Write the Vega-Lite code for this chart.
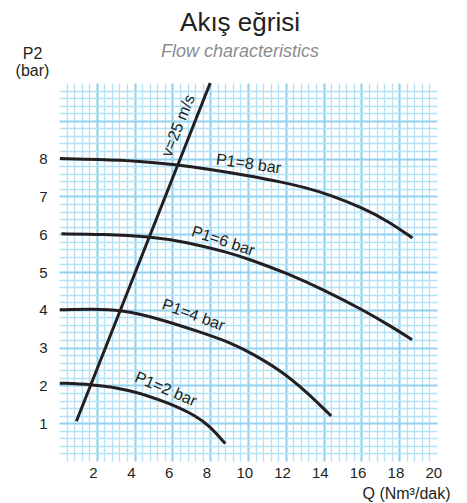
{
  "$schema": "https://vega.github.io/schema/vega-lite/v6.json",
  "width": 378,
  "height": 378,
  "autosize": {"type": "none"},
  "padding": {"left": 59, "top": 83, "right": 30, "bottom": 42},
  "background": "white",
  "config": {"view": {"stroke": null}, "font": "Liberation Sans"},
  "title": {
    "text": "Akış eğrisi",
    "subtitle": "Flow characteristics",
    "font": "Liberation Sans",
    "fontSize": 26,
    "fontWeight": "normal",
    "color": "#231f20",
    "subtitleFont": "Liberation Sans",
    "subtitleFontSize": 18,
    "subtitleFontStyle": "italic",
    "subtitleColor": "#8c8c8c",
    "subtitlePadding": 7,
    "anchor": "middle",
    "dx": -8,
    "dy": 20
  },
  "datasets": {
    "curves": [
      {"series": "P1=8", "q": 0.25, "p2": 8.0},
      {"series": "P1=8", "q": 2.3, "p2": 7.98},
      {"series": "P1=8", "q": 4.5, "p2": 7.93},
      {"series": "P1=8", "q": 6.4, "p2": 7.84},
      {"series": "P1=8", "q": 8.0, "p2": 7.73},
      {"series": "P1=8", "q": 10.2, "p2": 7.55},
      {"series": "P1=8", "q": 11.9, "p2": 7.39},
      {"series": "P1=8", "q": 13.2, "p2": 7.24},
      {"series": "P1=8", "q": 14.5, "p2": 7.05},
      {"series": "P1=8", "q": 16.3, "p2": 6.69},
      {"series": "P1=8", "q": 17.7, "p2": 6.32},
      {"series": "P1=8", "q": 18.9, "p2": 5.9},
      {"series": "P1=6", "q": 0.33, "p2": 6.01},
      {"series": "P1=6", "q": 2.5, "p2": 6.0},
      {"series": "P1=6", "q": 5.0, "p2": 5.94},
      {"series": "P1=6", "q": 6.9, "p2": 5.8},
      {"series": "P1=6", "q": 9.2, "p2": 5.51},
      {"series": "P1=6", "q": 10.2, "p2": 5.35},
      {"series": "P1=6", "q": 12.3, "p2": 4.96},
      {"series": "P1=6", "q": 14.15, "p2": 4.54},
      {"series": "P1=6", "q": 16.27, "p2": 4.0},
      {"series": "P1=6", "q": 17.68, "p2": 3.59},
      {"series": "P1=6", "q": 18.88, "p2": 3.21},
      {"series": "P1=4", "q": 0.24, "p2": 4.0},
      {"series": "P1=4", "q": 2.0, "p2": 4.02},
      {"series": "P1=4", "q": 3.45, "p2": 4.0},
      {"series": "P1=4", "q": 5.35, "p2": 3.79},
      {"series": "P1=4", "q": 7.8, "p2": 3.39},
      {"series": "P1=4", "q": 9.22, "p2": 3.14},
      {"series": "P1=4", "q": 10.28, "p2": 2.88},
      {"series": "P1=4", "q": 11.86, "p2": 2.42},
      {"series": "P1=4", "q": 13.28, "p2": 1.84},
      {"series": "P1=4", "q": 14.6, "p2": 1.19},
      {"series": "P1=2", "q": 0.24, "p2": 2.06},
      {"series": "P1=2", "q": 1.9, "p2": 2.03},
      {"series": "P1=2", "q": 3.9, "p2": 1.9},
      {"series": "P1=2", "q": 6.05, "p2": 1.53},
      {"series": "P1=2", "q": 7.46, "p2": 1.19},
      {"series": "P1=2", "q": 8.16, "p2": 0.93},
      {"series": "P1=2", "q": 9.0, "p2": 0.46},
      {"series": "v=25", "q": 1.12, "p2": 1.05},
      {"series": "v=25", "q": 8.2, "p2": 10.0}
    ],
    "labels": [
      {"text": "P1=8 bar", "q": 10.23, "p2": 7.86},
      {"text": "P1=6 bar", "q": 8.88, "p2": 5.82},
      {"text": "P1=4 bar", "q": 7.31, "p2": 3.86},
      {"text": "P1=2 bar", "q": 5.85, "p2": 1.9},
      {"text": "v=25 m/s", "q": 6.51, "p2": 8.87}
    ]
  },
  "layer": [
    {
      "data": {"name": "curves"},
      "mark": {"type": "line", "interpolate": "basis", "color": "#231f20", "strokeWidth": 3},
      "encoding": {
        "x": {
          "field": "q", "type": "quantitative",
          "scale": {"domain": [0.2, 20.2], "nice": false, "zero": false},
          "axis": {
            "title": "Q (Nm³/dak)",
            "titleFont": "Liberation Sans",
            "titleFontSize": 16,
            "titleFontWeight": "normal",
            "titleColor": "#231f20",
            "titleAlign": "right",
            "titleAnchor": null,
            "titleBaseline": "alphabetic",
            "titleX": 391,
            "titleY": 37,
            "domain": false,
            "ticks": false,
            "tickCount": 1000,
            "labelFontSize": 15,
            "labelColor": "#231f20",
            "labelPadding": 4,
            "labelOverlap": false,
            "labelFlush": false,
            "labelBound": false,
            "labelExpr": "datum.value % 2 == 0 ? format(datum.value, 'd') : ''",
            "values": [0.6,1,1.4,1.8,2,2.2,2.6,3,3.4,3.8,4,4.2,4.6,5,5.4,5.8,6,6.2,6.6,7,7.4,7.8,8,8.2,8.6,9,9.4,9.8,10,10.2,10.6,11,11.4,11.8,12,12.2,12.6,13,13.4,13.8,14,14.2,14.6,15,15.4,15.8,16,16.2,16.6,17,17.4,17.8,18,18.2,18.6,19,19.4,19.8,20],
            "grid": true,
            "gridOpacity": {"condition": {"test": "datum.value % 2 == 0", "value": 0}, "value": 1},
            "gridColor": {"condition": {"test": "abs((datum.value - 0.2) / 2 - round((datum.value - 0.2) / 2)) < 0.01", "value": "#93d2f0"}, "value": "#b3e2f7"},
            "gridWidth": {"condition": {"test": "abs((datum.value - 0.2) / 2 - round((datum.value - 0.2) / 2)) < 0.01", "value": 2.2}, "value": 1.3}
          }
        },
        "y": {
          "field": "p2", "type": "quantitative",
          "scale": {"domain": [0, 10], "nice": false},
          "axis": {
            "title": ["P2", "(bar)"],
            "titleFont": "Liberation Sans",
            "titleFontSize": 16,
            "titleFontWeight": "normal",
            "titleColor": "#231f20",
            "titleAngle": 0,
            "titleAlign": "center",
            "titleAnchor": null,
            "titleBaseline": "alphabetic",
            "titleX": -27,
            "titleY": -25,
            "titleLineHeight": 17,
            "domain": false,
            "ticks": false,
            "tickCount": 1000,
            "labelFontSize": 15,
            "labelColor": "#231f20",
            "labelPadding": 12,
            "labelOverlap": false,
            "labelFlush": false,
            "labelBound": false,
            "labelExpr": "(datum.value % 1 == 0 && datum.value <= 8) ? format(datum.value, 'd') : ''",
            "values": [0.2,0.4,0.6,0.8,1,1.2,1.4,1.6,1.8,2,2.2,2.4,2.6,2.8,3,3.2,3.4,3.6,3.8,4,4.2,4.4,4.6,4.8,5,5.2,5.4,5.6,5.8,6,6.2,6.4,6.6,6.8,7,7.2,7.4,7.6,7.8,8,8.2,8.4,8.6,8.8,9,9.2,9.4,9.6,9.8],
            "grid": true,
            "gridColor": {"condition": {"test": "datum.value % 1 == 0", "value": "#93d2f0"}, "value": "#b3e2f7"},
            "gridWidth": {"condition": {"test": "datum.value % 1 == 0", "value": 2.2}, "value": 1.3}
          }
        },
        "detail": {"field": "series", "type": "nominal"}
      }
    },
    {
      "data": {"name": "labels"},
      "transform": [{"filter": "datum.text == 'P1=8 bar'"}],
      "mark": {"type": "text", "angle": 8, "fontSize": 16, "font": "Liberation Sans", "color": "#231f20", "align": "center", "baseline": "middle"},
      "encoding": {"x": {"field": "q", "type": "quantitative"}, "y": {"field": "p2", "type": "quantitative"}, "text": {"field": "text"}}
    },
    {
      "data": {"name": "labels"},
      "transform": [{"filter": "datum.text == 'P1=6 bar'"}],
      "mark": {"type": "text", "angle": 18, "fontSize": 16, "font": "Liberation Sans", "color": "#231f20", "align": "center", "baseline": "middle"},
      "encoding": {"x": {"field": "q", "type": "quantitative"}, "y": {"field": "p2", "type": "quantitative"}, "text": {"field": "text"}}
    },
    {
      "data": {"name": "labels"},
      "transform": [{"filter": "datum.text == 'P1=4 bar'"}],
      "mark": {"type": "text", "angle": 20, "fontSize": 16, "font": "Liberation Sans", "color": "#231f20", "align": "center", "baseline": "middle"},
      "encoding": {"x": {"field": "q", "type": "quantitative"}, "y": {"field": "p2", "type": "quantitative"}, "text": {"field": "text"}}
    },
    {
      "data": {"name": "labels"},
      "transform": [{"filter": "datum.text == 'P1=2 bar'"}],
      "mark": {"type": "text", "angle": 23, "fontSize": 16, "font": "Liberation Sans", "color": "#231f20", "align": "center", "baseline": "middle"},
      "encoding": {"x": {"field": "q", "type": "quantitative"}, "y": {"field": "p2", "type": "quantitative"}, "text": {"field": "text"}}
    },
    {
      "data": {"name": "labels"},
      "transform": [{"filter": "datum.text == 'v=25 m/s'"}],
      "mark": {"type": "text", "angle": -68, "fontSize": 16, "font": "Liberation Sans", "color": "#231f20", "align": "center", "baseline": "middle"},
      "encoding": {"x": {"field": "q", "type": "quantitative"}, "y": {"field": "p2", "type": "quantitative"}, "text": {"field": "text"}}
    }
  ]
}
